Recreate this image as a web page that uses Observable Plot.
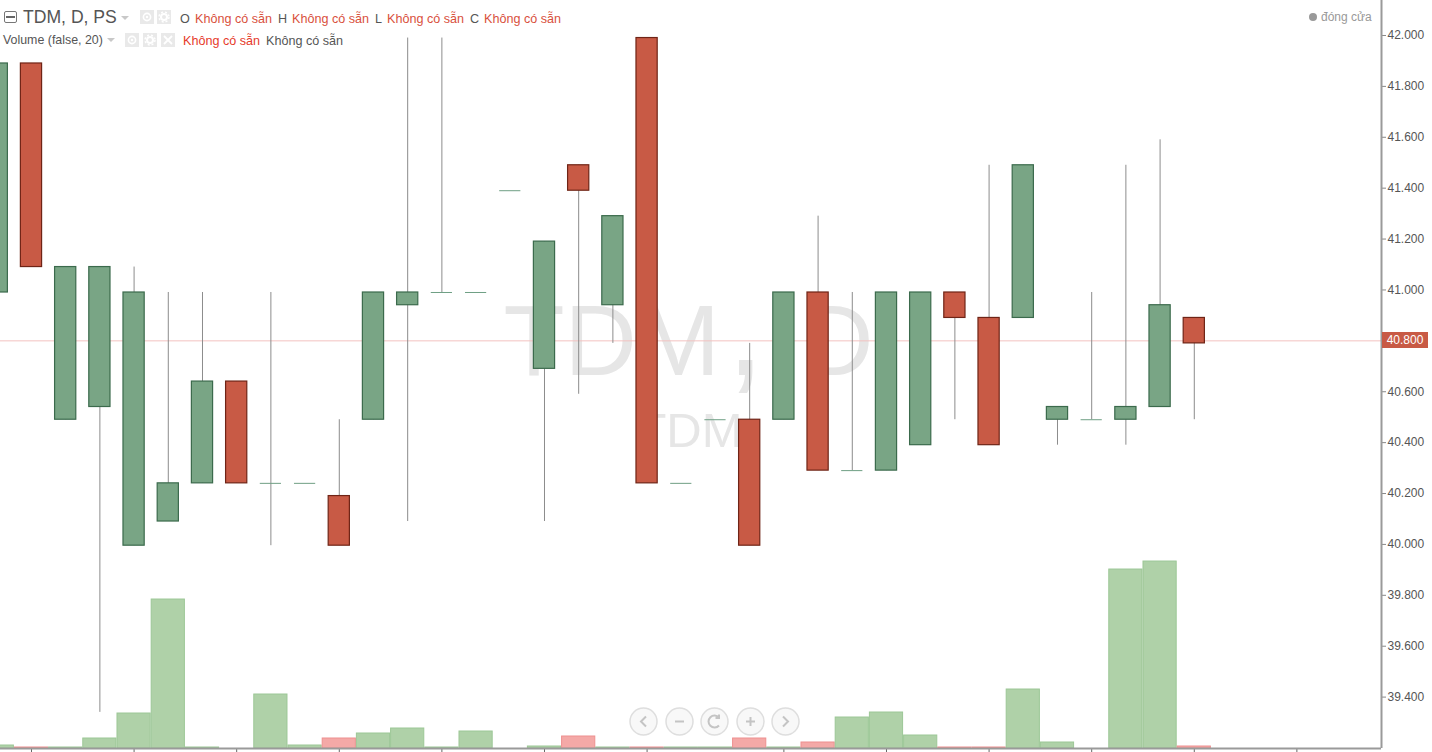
<!DOCTYPE html>
<html><head><meta charset="utf-8">
<script src="https://cdn.jsdelivr.net/npm/d3@7"></script>
<script src="https://cdn.jsdelivr.net/npm/@observablehq/plot@0.6"></script>
<style>
html,body{margin:0;padding:0;background:#fff;overflow:hidden}
#wrap{position:relative;width:1432px;height:752px;font-family:"Liberation Sans",Arial,sans-serif;overflow:hidden}
.t{position:absolute;white-space:nowrap;line-height:1;font-size:12.6px}
.box{position:absolute;background:#e9e9e9;width:14px;height:14px}
.box svg{display:block}
.btn{position:absolute;top:707px;width:29px;height:29px}
.caret{position:absolute;width:0;height:0;border-left:4px solid transparent;border-right:4px solid transparent;border-top:4px solid #c8c8c8}
</style></head><body><div id="wrap"></div>
<script>
const index  = d3.range(36);
const open   = [40.99,41.89,40.49,40.54,40.99,40.09,40.24,40.24,40.24,40.24,39.995,40.49,40.94,40.99,40.99,41.39,40.69,41.49,40.94,41.99,40.24,40.49,40.49,40.49,40.99,40.29,40.29,40.39,40.99,40.89,40.89,40.49,40.49,40.49,40.54,40.89];
const close  = [41.89,41.09,41.09,41.09,39.995,40.24,40.64,40.64,40.24,40.24,40.19,40.99,40.99,40.99,40.99,41.39,41.19,41.39,41.29,40.24,40.24,40.49,39.995,40.99,40.29,40.29,40.99,40.99,40.89,40.39,41.49,40.54,40.49,40.54,40.94,40.79];
const isRed  = [0,1,0,0,0,0,0,1,0,0,1,0,0,0,0,0,0,1,0,1,0,0,1,0,1,0,0,0,1,1,0,0,0,0,0,1];
const high   = [41.89,41.89,41.09,41.09,41.09,40.99,40.99,40.64,40.99,40.24,40.49,40.99,41.99,41.99,40.99,41.39,41.19,41.49,41.29,41.99,40.24,40.49,40.79,40.99,41.29,40.99,40.99,40.99,40.99,41.49,41.49,40.54,40.99,41.49,41.59,40.89];
const low    = [40.99,41.09,40.49,39.34,39.995,40.09,40.24,40.24,39.995,40.24,39.995,40.49,40.09,40.99,40.99,41.39,40.09,40.59,40.79,40.24,40.24,40.49,39.995,40.49,40.29,40.29,40.29,40.39,40.49,40.39,40.89,40.39,40.49,40.39,40.54,40.49];
const volume = [3,1,1,10,35,149,1,0,54,3,10,15,20,1,17,0,2,12,1,1,1,1,10,1,6,31,36,13,1,1,59,6,0,179,187,2];
const lastPrice = 40.8;
const priceTicks = [39.4,39.6,39.8,40.0,40.2,40.4,40.6,40.8,41.0,41.2,41.4,41.6,41.8,42.0];
const timeTicks = [1,4,7,10,13,16,19,23,26,29,32,35,38];
const naText = "Không có sẵn";

const yMin = 39.198, yMax = 42.1375, volUnit = 1/254.5;
const rows = index.map(i => ({i, o:open[i], c:close[i], h:high[i], l:low[i], v:volume[i], red:!!isRed[i],
  top:Math.max(open[i],close[i]), bot:Math.min(open[i],close[i])}));
const bodies = rows.filter(d => d.top > d.bot);
const dojis = rows.filter(d => d.top === d.bot);
const vols = rows.filter(d => d.v > 0);
const colors = {gBody:"#79a585", gEdge:"#3b6a4c", rBody:"#c85a45", rEdge:"#6f2416", gVol:"#afd1a8", gVolE:"#9cc796", rVol:"#f4a9a7", rVolE:"#ee9090"};
const mark = "#e6e6e6";

const chart = Plot.plot({
  width:1432, height:752, marginLeft:0, marginRight:51, marginTop:0, marginBottom:4,
  style:{background:"transparent", fontFamily:'"Liberation Sans",Arial,sans-serif'},
  x:{type:"linear", domain:[0.094,40.474], axis:null},
  y:{domain:[yMin,yMax], axis:null},
  marks:[
    Plot.text(["TDM"],{frameAnchor:"top-left", dx:503, dy:342, text:d=>d, textAnchor:"start", lineAnchor:"middle", fontSize:100, fill:mark}),
    Plot.text([","],{frameAnchor:"top-left", dx:745, dy:330, text:d=>d, textAnchor:"middle", lineAnchor:"middle", fontSize:140, fill:mark}),
    Plot.text(["D"],{frameAnchor:"top-left", dx:873, dy:342, text:d=>d, textAnchor:"end", lineAnchor:"middle", fontSize:100, fill:mark}),
    Plot.text(["TDM"],{frameAnchor:"top-left", dx:689, dy:431, text:d=>d, textAnchor:"middle", lineAnchor:"middle", fontSize:49, fill:mark}),
    Plot.ruleY([lastPrice],{stroke:"#f3c3c0", strokeWidth:1}),
    Plot.rect(vols,{x1:d=>d.i-0.5, x2:d=>d.i+0.5, y1:yMin, y2:d=>yMin+d.v*volUnit, insetLeft:0.5, insetRight:0.5, fill:d=>d.red?colors.rVol:colors.gVol, stroke:d=>d.red?colors.rVolE:colors.gVolE, clip:true}),
    Plot.ruleX(rows,{x:"i", y1:"l", y2:"h", stroke:"#8c8c8c", strokeWidth:1, clip:true}),
    Plot.ruleY(dojis,{x1:d=>d.i-0.31, x2:d=>d.i+0.31, y:"c", stroke:"#6f9f84", strokeWidth:1, clip:true}),
    Plot.rect(bodies,{x1:d=>d.i-0.31, x2:d=>d.i+0.31, y1:"bot", y2:"top", fill:d=>d.red?colors.rBody:colors.gBody, stroke:d=>d.red?colors.rEdge:colors.gEdge, strokeWidth:1.2, clip:true}),
    Plot.axisY({anchor:"right", ticks:priceTicks, tickFormat:d3.format(".3f"), tickSize:4, tickPadding:2, fontSize:12, color:"#555", label:null, stroke:"#888"}),
    Plot.axisX({anchor:"bottom", ticks:timeTicks, tickSize:5, tickFormat:()=>"", label:null, stroke:"#666"}),
    Plot.ruleX([40.474],{stroke:"#9a9a9a", strokeWidth:2}),
    Plot.ruleY([yMin],{stroke:"#9a9a9a", strokeWidth:2})
  ]
});
const wrap = document.getElementById("wrap");
wrap.appendChild(chart);

function t(x,y,s,color,size){const e=document.createElement("div");e.className="t";e.style.left=x+"px";e.style.top=y+"px";e.style.color=color;if(size)e.style.fontSize=size+"px";e.textContent=s;wrap.appendChild(e);return e;}
const glyphs={
  eye:'<circle cx="7" cy="7" r="3.6" fill="none" stroke="#fff" stroke-width="1.6"/><circle cx="7" cy="7" r="1.2" fill="#fff"/>',
  gear:'<circle cx="7" cy="7" r="3" fill="none" stroke="#fff" stroke-width="2"/><circle cx="7" cy="7" r="5" fill="none" stroke="#fff" stroke-width="1.4" stroke-dasharray="2 2"/>',
  x:'<path d="M3 3L11 11M11 3L3 11" stroke="#fff" stroke-width="1.8"/>'
};
function box(x,y,g){const e=document.createElement("div");e.className="box";e.style.left=x+"px";e.style.top=y+"px";e.innerHTML='<svg width="14" height="14">'+glyphs[g]+'</svg>';wrap.appendChild(e);}
function caret(x,y){const e=document.createElement("div");e.className="caret";e.style.left=x+"px";e.style.top=y+"px";wrap.appendChild(e);}
const red="#d9503c", gray="#555";
const sq=document.createElement("div");sq.style.cssText="position:absolute;left:4px;top:11px;width:11px;height:10px;border:1.5px solid #777;border-radius:2px";
sq.innerHTML='<div style="position:absolute;left:1px;right:1px;top:4px;height:1.5px;background:#666"></div>';wrap.appendChild(sq);
t(23,9,"TDM, D, PS","#555",17.6);
caret(121,16);
box(140,10,"eye");box(157,10,"gear");
[[180,"O"],[278,"H"],[375,"L"],[470,"C"]].forEach(([x,s])=>{t(x,13,s,gray);t(x+(s==="L"?12:s==="O"?15:14),13,naText,red);});
t(3,34,"Volume (false, 20)",gray,12.4);
caret(107,38);
box(125,33,"eye");box(143,33,"gear");box(161,33,"x");
t(183,35,naText,"#e63a2a");t(266,35,naText,gray);
const dot=document.createElement("div");dot.style.cssText="position:absolute;left:1309px;top:13px;width:8px;height:8px;border-radius:50%;background:#999";wrap.appendChild(dot);
t(1321,11,"đóng cửa","#999",12);

const ly=chart.scale("y").apply(lastPrice);
const tag=t(1382,Math.round(ly)-8,d3.format(".3f")(lastPrice),"#fff",12);
tag.style.cssText+=";background:#c85a45;width:46px;height:16px;line-height:16px;text-align:center";

const icons=[
  '<path d="M17 9.5L12 14.5L17 19.5"/>',
  '<path d="M10 14.5H19"/>',
  '<path d="M19 10.5A6 6 0 1 0 19 18.5"/><path d="M19 7.5V11H15.5"/>',
  '<path d="M10 14.5H19M14.5 10V19"/>',
  '<path d="M12 9.5L17 14.5L12 19.5"/>'
];
[629,665,700,736,771].forEach((x,k)=>{const b=document.createElement("div");b.className="btn";b.style.left=x+"px";
  b.innerHTML='<svg width="29" height="29"><circle cx="14.5" cy="14.5" r="13.5" fill="#f7f7f7" fill-opacity="0.85" stroke="#dedede" stroke-width="1.5"/><g fill="none" stroke="#c4c4c4" stroke-width="2">'+icons[k]+'</g></svg>';
  wrap.appendChild(b);});
</script></body></html>
